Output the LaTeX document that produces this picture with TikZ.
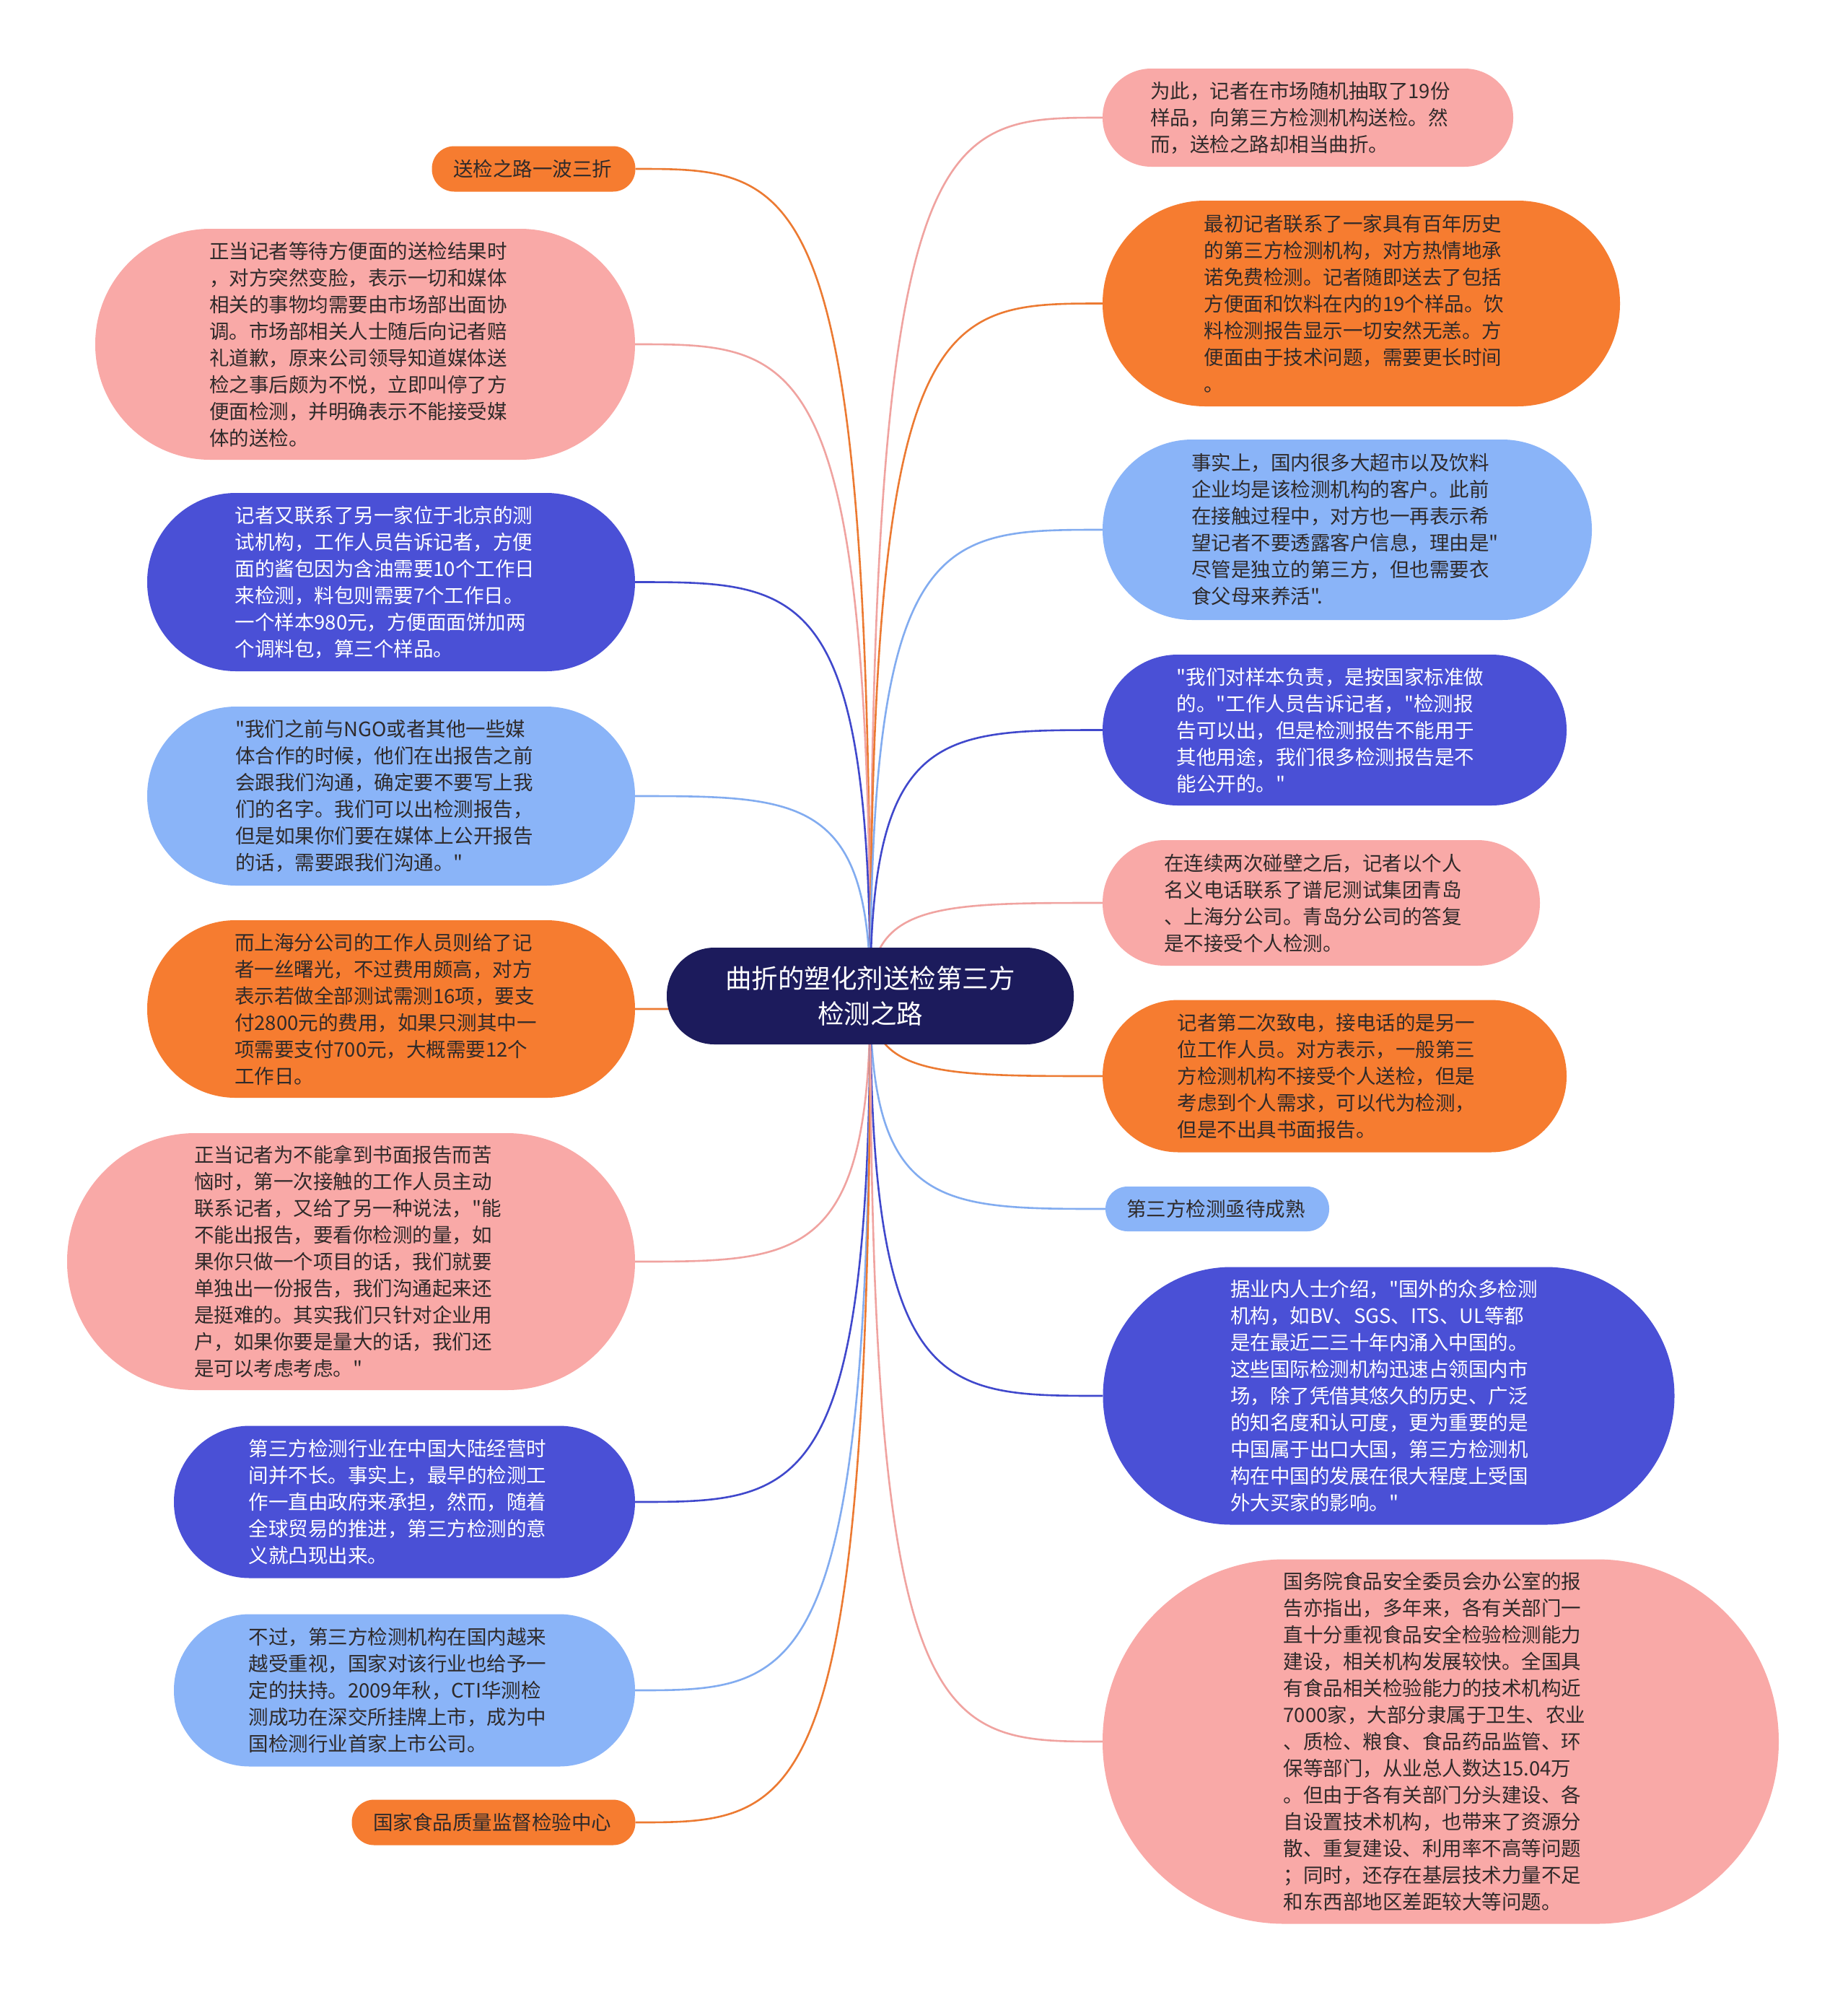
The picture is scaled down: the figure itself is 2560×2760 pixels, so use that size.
\documentclass[tikz,border=0pt]{standalone}
\usepackage{fontspec}
\newfontfamily\cjk{Noto Sans CJK SC}
\usetikzlibrary{calc,backgrounds}
\definecolor{orangeF}{HTML}{F67C30}
\definecolor{pinkF}{HTML}{F9A9A7}
\definecolor{blueF}{HTML}{4A50D6}
\definecolor{lblueF}{HTML}{8AB4F8}
\definecolor{navyF}{HTML}{1C1B5C}
\definecolor{txt}{HTML}{2F2A2A}
\definecolor{orangeL}{HTML}{EC7A32}
\definecolor{pinkL}{HTML}{F0A3A0}
\definecolor{blueL}{HTML}{4048CC}
\definecolor{lblueL}{HTML}{82ACF0}
\tikzset{
 leaf/.style={inner xsep=0pt, inner ysep=0pt, align=left, font=\cjk\fontsize{27.5}{37}\selectfont, text=txt},
 orangebox/.style={fill=orangeF},
 pinkbox/.style={fill=pinkF},
 bluebox/.style={fill=blueF, text=white},
 lbluebox/.style={fill=lblueF},
 rootbox/.style={fill=navyF, text=white, align=center, font=\cjk\fontsize{36.5}{49}\selectfont, minimum width=564pt, minimum height=134pt, rounded corners=66pt, inner sep=0pt},
 conn/.style={line width=2.6pt},
}
\newcommand\leafnode[7]{%
 \pgfmathsetmacro\leafr{#5/2-0.5}%
 \pgfmathsetmacro\leaftw{#4-#5+4}%
 \node[leaf,#6,minimum width=#4pt,minimum height=#5pt,rounded corners=\leafr pt,text width=\leaftw pt] (#1) at (#2,#3) {#7};}
\newcommand\lconn[2]{\draw[conn,#2] (root.center) .. controls (root.center |- #1.east) and ($(root.center |- #1.east)!0.3!(#1.east)$) .. (#1.east);}
\newcommand\rconn[2]{\draw[conn,#2] (root.center) .. controls (root.center |- #1.west) and ($(root.center |- #1.west)!0.3!(#1.west)$) .. (#1.west);}
\begin{document}
\begin{tikzpicture}[x=1pt,y=-1pt]
\useasboundingbox (0,0) rectangle (2560,2760);
\node[rootbox] (root) at (1206,1380) {曲折的塑化剂送检第三方\\检测之路};
% left
\leafnode{L1}{739.5}{234}{282}{63}{orangebox}{送检之路一波三折}
\leafnode{L2}{506}{477}{748}{320}{pinkbox}{正当记者等待方便面的送检结果时\\，对方突然变脸，表示一切和媒体\\相关的事物均需要由市场部出面协\\调。市场部相关人士随后向记者赔\\礼道歉，原来公司领导知道媒体送\\检之事后颇为不悦，立即叫停了方\\便面检测，并明确表示不能接受媒\\体的送检。}
\leafnode{L3}{542}{806.5}{676}{247}{bluebox}{记者又联系了另一家位于北京的测\\试机构，工作人员告诉记者，方便\\面的酱包因为含油需要10个工作日\\来检测，料包则需要7个工作日。\\一个样本980元，方便面面饼加两\\个调料包，算三个样品。}
\leafnode{L4}{542}{1103}{676}{248}{lbluebox}{"我们之前与NGO或者其他一些媒\\体合作的时候，他们在出报告之前\\会跟我们沟通，确定要不要写上我\\们的名字。我们可以出检测报告，\\但是如果你们要在媒体上公开报告\\的话，需要跟我们沟通。"}
\leafnode{L5}{542}{1398}{676}{246}{orangebox}{而上海分公司的工作人员则给了记\\者一丝曙光，不过费用颇高，对方\\表示若做全部测试需测16项，要支\\付2800元的费用，如果只测其中一\\项需要支付700元，大概需要12个\\工作日。}
\leafnode{L6}{486.5}{1748}{787}{356}{pinkbox}{正当记者为不能拿到书面报告而苦\\恼时，第一次接触的工作人员主动\\联系记者，又给了另一种说法，"能\\不能出报告，要看你检测的量，如\\果你只做一个项目的话，我们就要\\单独出一份报告，我们沟通起来还\\是挺难的。其实我们只针对企业用\\户，如果你要是量大的话，我们还\\是可以考虑考虑。"}
\leafnode{L7}{560.5}{2081}{639}{211}{bluebox}{第三方检测行业在中国大陆经营时\\间并不长。事实上，最早的检测工\\作一直由政府来承担，然而，随着\\全球贸易的推进，第三方检测的意\\义就凸现出来。}
\leafnode{L8}{560.5}{2342}{639}{211}{lbluebox}{不过，第三方检测机构在国内越来\\越受重视，国家对该行业也给予一\\定的扶持。2009年秋，CTI华测检\\测成功在深交所挂牌上市，成为中\\国检测行业首家上市公司。}
\leafnode{L9}{684}{2525}{393}{63}{orangebox}{国家食品质量监督检验中心}
% right
\leafnode{R1}{1812.5}{163}{569}{136}{pinkbox}{为此，记者在市场随机抽取了19份\\样品，向第三方检测机构送检。然\\而，送检之路却相当曲折。}
\leafnode{R2}{1886.5}{420.5}{717}{285}{orangebox}{最初记者联系了一家具有百年历史\\的第三方检测机构，对方热情地承\\诺免费检测。记者随即送去了包括\\方便面和饮料在内的19个样品。饮\\料检测报告显示一切安然无恙。方\\便面由于技术问题，需要更长时间\\。}
\leafnode{R3}{1867}{734}{678}{250}{lbluebox}{事实上，国内很多大超市以及饮料\\企业均是该检测机构的客户。此前\\在接触过程中，对方也一再表示希\\望记者不要透露客户信息，理由是"\\尽管是独立的第三方，但也需要衣\\食父母来养活".}
\leafnode{R4}{1849.5}{1011.5}{643}{209}{bluebox}{"我们对样本负责，是按国家标准做\\的。"工作人员告诉记者，"检测报\\告可以出，但是检测报告不能用于\\其他用途，我们很多检测报告是不\\能公开的。"}
\leafnode{R5}{1831}{1251}{606}{174}{pinkbox}{在连续两次碰壁之后，记者以个人\\名义电话联系了谱尼测试集团青岛\\、上海分公司。青岛分公司的答复\\是不接受个人检测。}
\leafnode{R6}{1849.5}{1491}{643}{211}{orangebox}{记者第二次致电，接电话的是另一\\位工作人员。对方表示，一般第三\\方检测机构不接受个人送检，但是\\考虑到个人需求，可以代为检测，\\但是不出具书面报告。}
\leafnode{R7}{1687}{1675}{310}{62}{lbluebox}{第三方检测亟待成熟}
\leafnode{R8}{1924.5}{1934}{792}{357}{bluebox}{据业内人士介绍，"国外的众多检测\\机构，如BV、SGS、ITS、UL等都\\是在最近二三十年内涌入中国的。\\这些国际检测机构迅速占领国内市\\场，除了凭借其悠久的历史、广泛\\的知名度和认可度，更为重要的是\\中国属于出口大国，第三方检测机\\构在中国的发展在很大程度上受国\\外大买家的影响。"}
\leafnode{R9}{1996.5}{2413}{937}{505}{pinkbox}{国务院食品安全委员会办公室的报\\告亦指出，多年来，各有关部门一\\直十分重视食品安全检验检测能力\\建设，相关机构发展较快。全国具\\有食品相关检验能力的技术机构近\\7000家，大部分隶属于卫生、农业\\、质检、粮食、食品药品监管、环\\保等部门，从业总人数达15.04万\\。但由于各有关部门分头建设、各\\自设置技术机构，也带来了资源分\\散、重复建设、利用率不高等问题\\；同时，还存在基层技术力量不足\\和东西部地区差距较大等问题。}
\begin{scope}[on background layer]
\fill[white] (0,0) rectangle (2560,2760);
\lconn{L1}{orangeL}
\lconn{L2}{pinkL}
\lconn{L3}{blueL}
\lconn{L4}{lblueL}
\lconn{L5}{orangeL}
\lconn{L6}{pinkL}
\lconn{L7}{blueL}
\lconn{L8}{lblueL}
\lconn{L9}{orangeL}
\rconn{R1}{pinkL}
\rconn{R2}{orangeL}
\rconn{R3}{lblueL}
\rconn{R4}{blueL}
\rconn{R5}{pinkL}
\rconn{R6}{orangeL}
\rconn{R7}{lblueL}
\rconn{R8}{blueL}
\rconn{R9}{pinkL}
\end{scope}
\end{tikzpicture}
\end{document}
